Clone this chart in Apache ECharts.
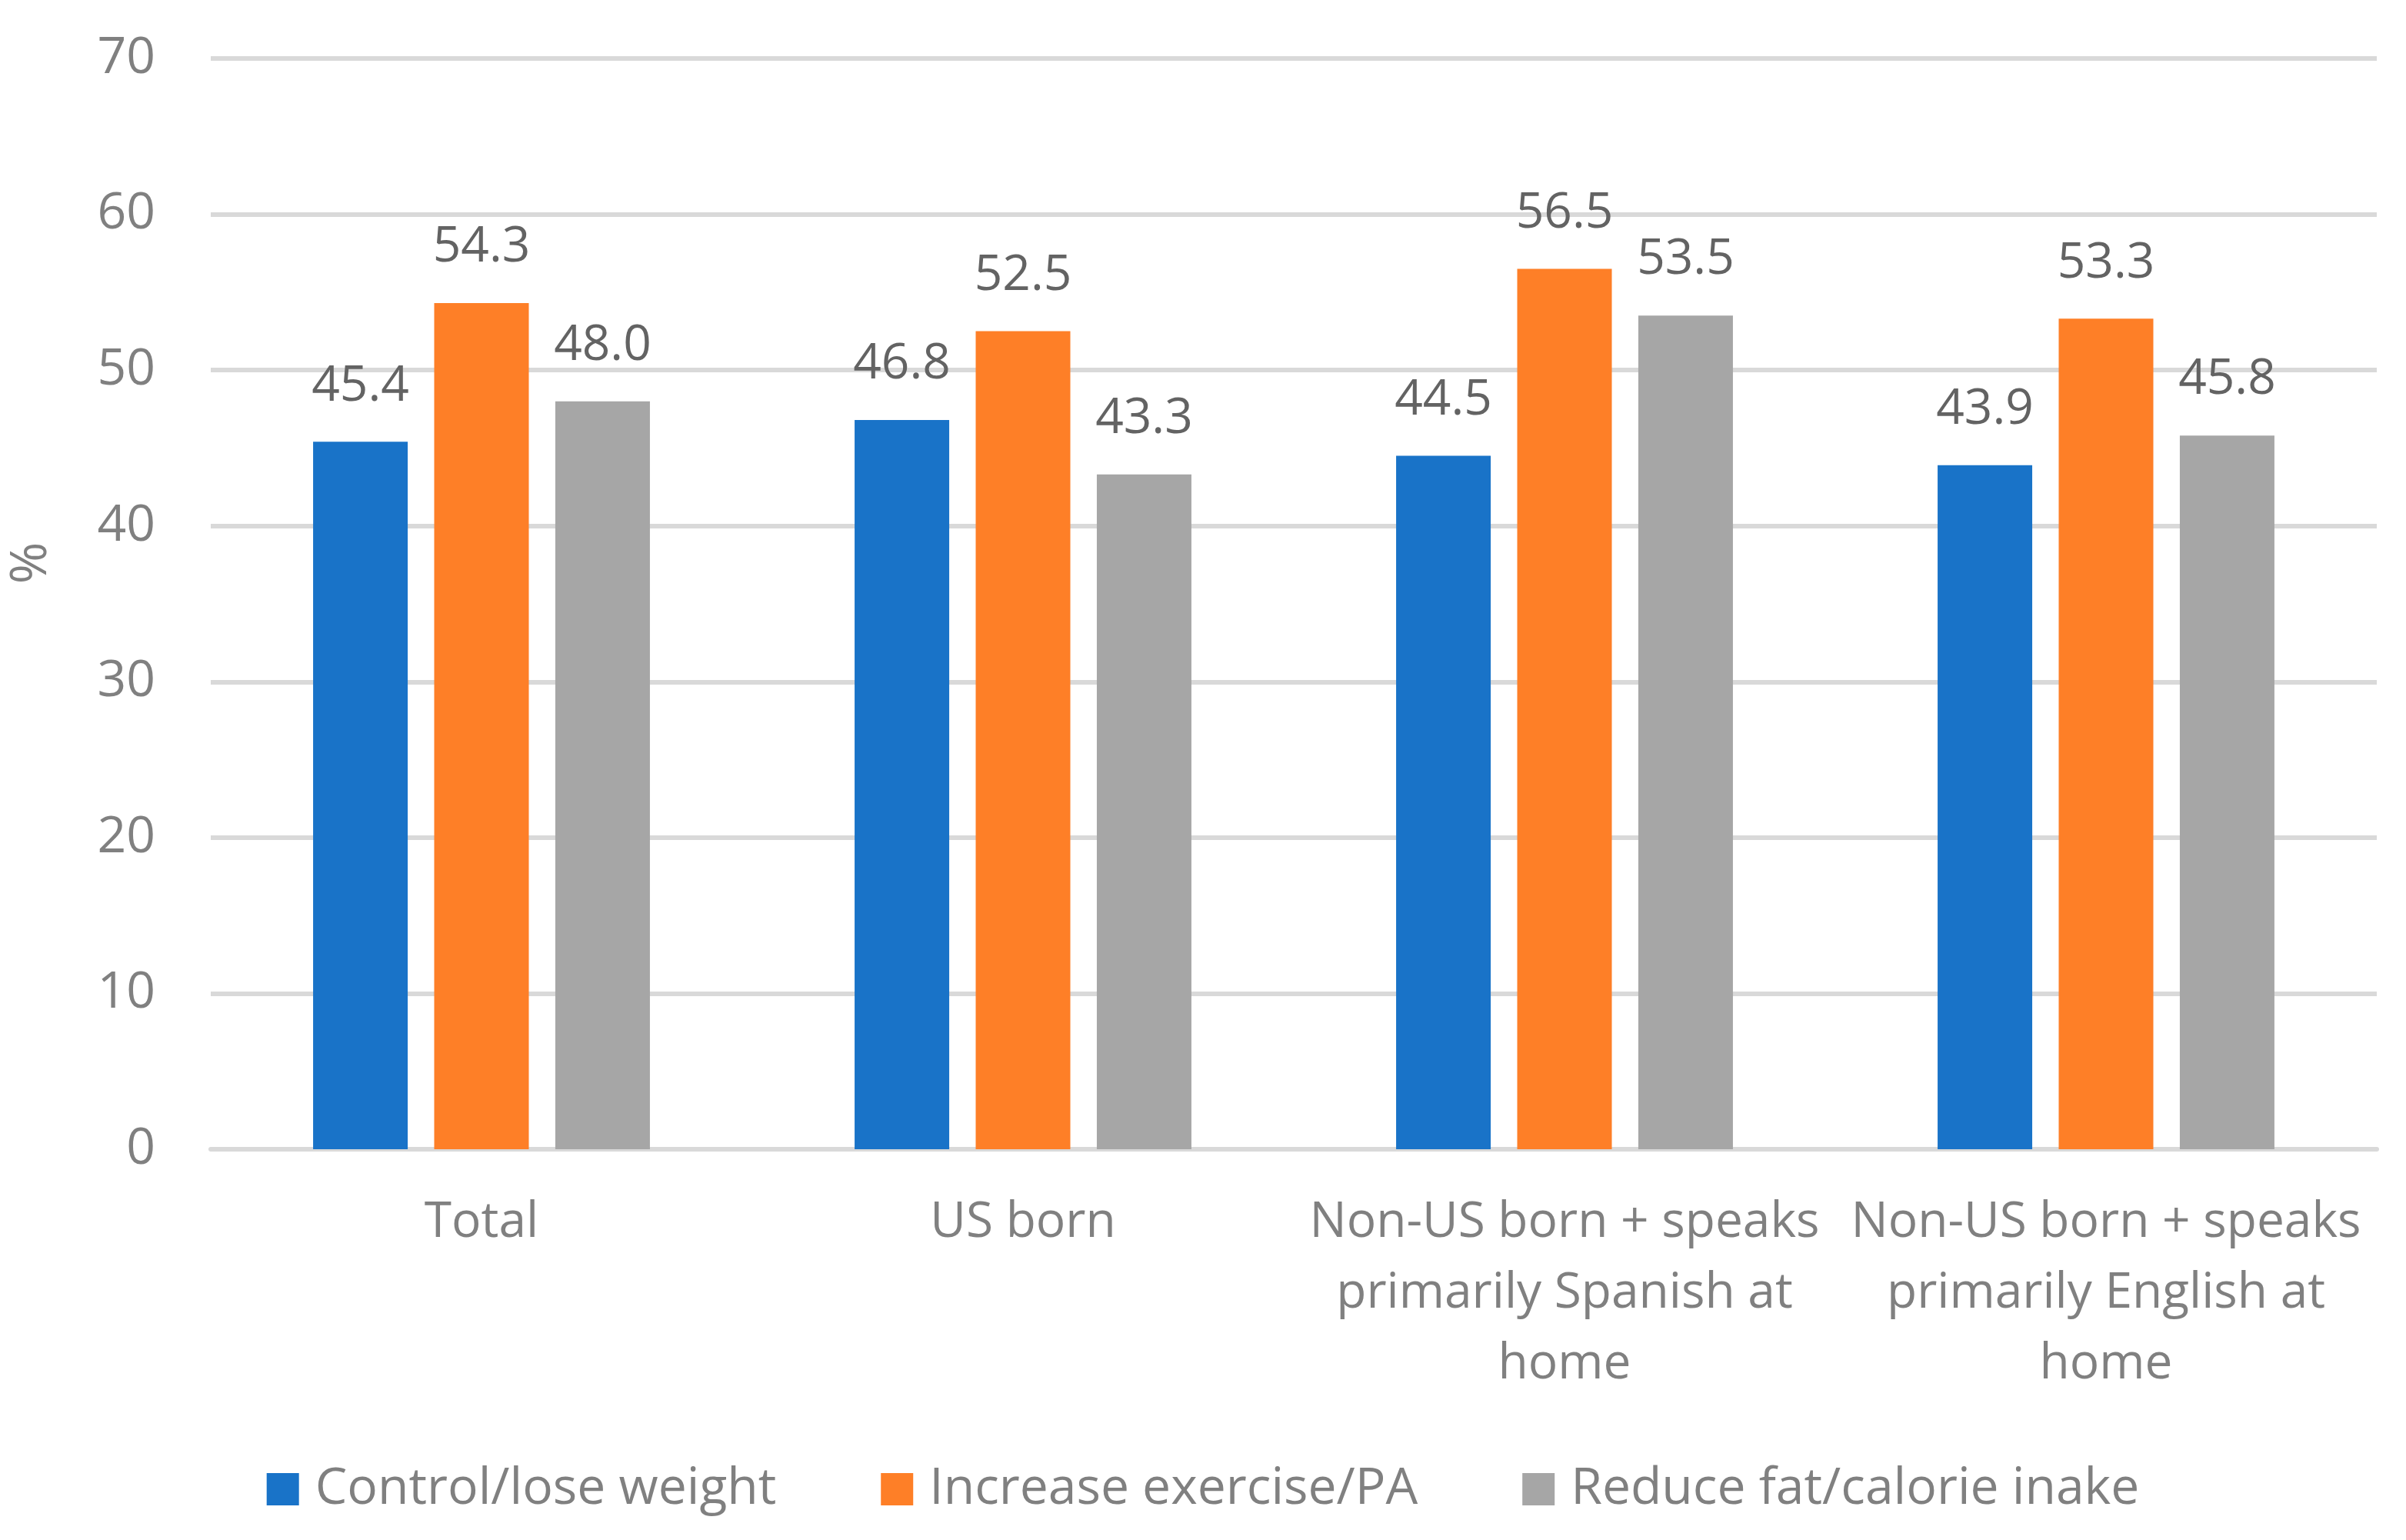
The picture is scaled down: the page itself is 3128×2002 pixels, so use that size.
<!DOCTYPE html>
<html>
<head>
<meta charset="utf-8">
<script src="https://cdn.jsdelivr.net/npm/echarts@6/dist/echarts.min.js"></script>
<style>
html,body{margin:0;padding:0;background:#fff;}
#chart{width:3128px;height:2002px;}
</style>
</head>
<body>
<div id="chart"></div>
<script>
const categories = [
  'Total',
  'US born',
  'Non-US born + speaks\nprimarily Spanish at\nhome',
  'Non-US born + speaks\nprimarily English at\nhome'
];
const seriesNames = ['Control/lose weight', 'Increase exercise/PA', 'Reduce fat/calorie inake'];
const controlWeight = [45.4, 46.8, 44.5, 43.9];
const increaseExercise = [54.3, 52.5, 56.5, 53.3];
const reduceFat = [48.0, 43.3, 53.5, 45.8];
const yTicks = { min: 0, max: 70, interval: 10 };
const colors = ['#1973C8', '#FE7F27', '#A6A6A6'];

const FONT = '"Open Sans", "Liberation Sans", sans-serif';
const chart = echarts.init(document.getElementById('chart'));
const values = [controlWeight, increaseExercise, reduceFat];

chart.setOption({
  animation: false,
  backgroundColor: '#ffffff',
  textStyle: { fontFamily: FONT },
  grid: { left: 272, right: 38, top: 76, bottom: 508, containLabel: false },
  legend: {
    data: seriesNames,
    left: 'center',
    top: 1898,
    icon: 'rect',
    itemWidth: 42,
    itemHeight: 42,
    itemGap: 136,
    textStyle: { fontFamily: FONT, fontSize: 66, color: '#808080', padding: [0, 0, 0, 16] }
  },
  xAxis: {
    type: 'category',
    data: categories,
    axisLine: { show: true, lineStyle: { color: '#D9D9D9', width: 6 } },
    axisTick: { show: false },
    axisLabel: {
      interval: 0,
      margin: 50,
      fontFamily: FONT,
      fontSize: 64,
      lineHeight: 92,
      color: '#808080',
      align: 'center',
      verticalAlign: 'top'
    }
  },
  yAxis: {
    type: 'value',
    min: yTicks.min,
    max: yTicks.max,
    interval: yTicks.interval,
    name: '%',
    nameLocation: 'middle',
    nameGap: 200,
    nameRotate: 90,
    nameTextStyle: { fontFamily: FONT, fontSize: 66, color: '#808080', padding: [0, 0, 0, 106] },
    axisLine: { show: false },
    axisTick: { show: false },
    axisLabel: { margin: 72, fontFamily: FONT, fontSize: 66, color: '#808080' },
    splitLine: { lineStyle: { color: '#D9D9D9', width: 6 } }
  },
  series: seriesNames.map((name, i) => ({
    name: name,
    type: 'bar',
    data: values[i],
    barWidth: 123,
    barGap: '28%',
    itemStyle: { color: colors[i] },
    label: {
      show: true,
      position: 'top',
      distance: 40,
      fontFamily: FONT,
      fontSize: 64,
      color: '#636363',
      formatter: p => p.value.toFixed(1)
    }
  }))
});
</script>
</body>
</html>
